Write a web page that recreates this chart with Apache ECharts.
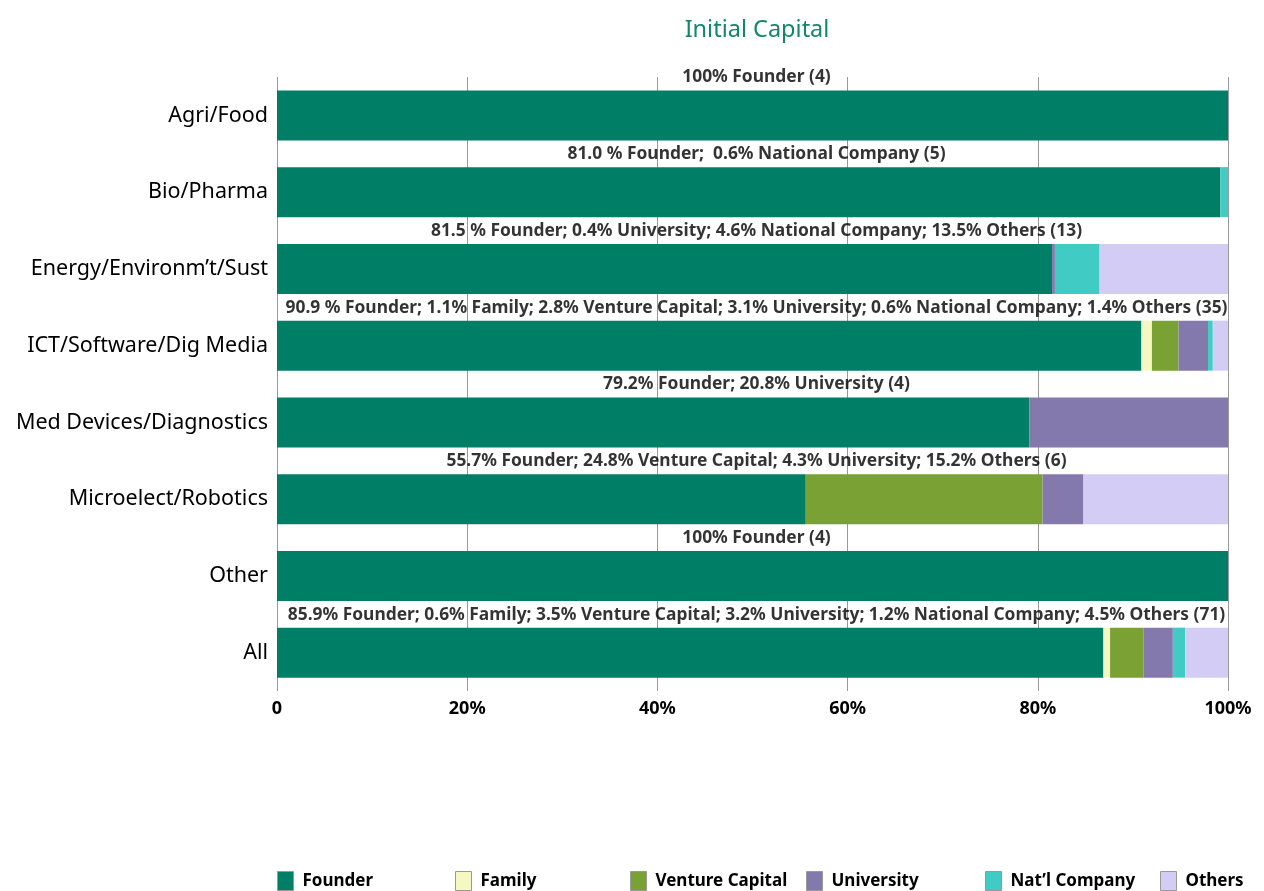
<!DOCTYPE html>
<html lang="en">
<head>
    <meta charset="UTF-8"/>
    <title>Initial Capital</title>
    <script src="https://cdn.jsdelivr.net/npm/echarts@6/dist/echarts.min.js"></script>
    <style>
        html, body { margin: 0; padding: 0; background: #fff; }
        #main { width: 1264px; height: 891px; }
    </style>
</head>
<body>
<div id="main"></div>
<script>
    // sectors, top to bottom
    var sectors = ['Agri/Food', 'Bio/Pharma', 'Energy/Environm\u2019t/Sust', 'ICT/Software/Dig Media',
        'Med Devices/Diagnostics', 'Microelect/Robotics', 'Other', 'All'];

    // share of initial capital (%)
    var founder     = [100, 99.2, 81.5, 90.9, 79.1, 55.6, 100, 86.9];
    var family      = [0, 0, 0, 1.1, 0, 0, 0, 0.7];
    var ventureCap  = [0, 0, 0, 2.8, 0, 24.9, 0, 3.5];
    var university  = [0, 0, 0.3, 3.1, 20.9, 4.3, 0, 3.1];
    var natCompany  = [0, 0.8, 4.7, 0.5, 0, 0, 0, 1.3];
    var others      = [0, 0, 13.5, 1.6, 0, 15.2, 0, 4.5];

    // text written above each bar
    var notes = [
        '100% Founder (4)',
        '81.0 % Founder;  0.6% National Company (5)',
        '81.5 % Founder; 0.4% University; 4.6% National Company; 13.5% Others (13)',
        '90.9 % Founder; 1.1% Family; 2.8% Venture Capital; 3.1% University; 0.6% National Company; 1.4% Others (35)',
        '79.2% Founder; 20.8% University (4)',
        '55.7% Founder; 24.8% Venture Capital; 4.3% University; 15.2% Others (6)',
        '100% Founder (4)',
        '85.9% Founder; 0.6% Family; 3.5% Venture Capital; 3.2% University; 1.2% National Company; 4.5% Others (71)'
    ];

    var xTicks = [0, 20, 40, 60, 80, 100];

    var seriesNames = ['Founder', 'Family', 'Venture Capital', 'University', 'Nat\u2019l Company', 'Others'];
    var colors = ['#007f66', '#f5f8c2', '#79a133', '#8479ad', '#40cbc4', '#d3ccf5'];

    var font = '"Noto Sans", "Open Sans", sans-serif';

    var myChart = echarts.init(document.getElementById('main'));

    function seg(i, data) {
        return {
            name: seriesNames[i],
            type: 'bar',
            stack: 'total',
            barWidth: 50,
            data: data,
            itemStyle: { color: colors[i] },
            emphasis: { disabled: true }
        };
    }

    // one legend per entry so the spacing stays even
    var legendLeft = [277, 455, 630, 806, 985, 1160];
    var legends = seriesNames.map(function (n, i) {
        return {
            data: [n],
            left: legendLeft[i],
            top: 871,
            itemWidth: 16,
            itemHeight: 19,
            icon: 'rect',
            padding: 0,
            itemStyle: { borderColor: '#999', borderWidth: 1 },
            textStyle: { fontSize: 17, fontWeight: 'bold', color: '#000', fontFamily: font, padding: [2, 0, 0, 4] }
        };
    });

    myChart.setOption({
        animation: false,
        textStyle: { fontFamily: font },
        title: {
            text: 'Initial Capital',
            left: 752,
            textAlign: 'center',
            top: 13,
            textStyle: { color: '#13876d', fontSize: 23.5, fontWeight: 'normal', fontFamily: font }
        },
        legend: legends,
        grid: { left: 277, right: 36, top: 77, bottom: 200, containLabel: false },
        xAxis: {
            type: 'value',
            min: 0,
            max: 100,
            interval: 20,
            axisLine: { show: false },
            axisTick: { show: false },
            splitLine: { show: true, lineStyle: { color: '#999', width: 1 } },
            axisLabel: {
                margin: 9,
                fontSize: 18,
                fontWeight: 'bold',
                color: '#000',
                formatter: function (v) { return xTicks.indexOf(v) === 0 ? '0' : v + '%'; }
            }
        },
        yAxis: {
            type: 'category',
            inverse: true,
            data: sectors,
            axisLine: { show: false },
            axisTick: { show: false },
            axisLabel: { fontSize: 21.5, color: '#000', margin: 9, padding: [7, 0, 0, 0] }
        },
        series: [
            seg(0, founder),
            seg(1, family),
            seg(2, ventureCap),
            seg(3, university),
            seg(4, natCompany),
            seg(5, others),
            {
                name: 'notes',
                type: 'scatter',
                symbolSize: 0,
                silent: true,
                z: 10,
                data: sectors.map(function (s) { return [50, s]; }),
                label: {
                    show: true,
                    position: 'inside',
                    offset: [4, -38],
                    fontSize: 17.4,
                    fontWeight: 'bold',
                    color: '#000',
                    formatter: function (p) { return notes[p.dataIndex]; }
                }
            }
        ]
    });
</script>
</body>
</html>
